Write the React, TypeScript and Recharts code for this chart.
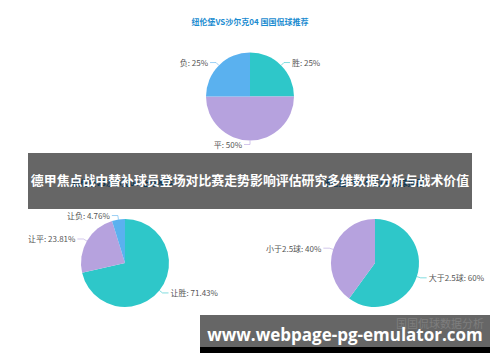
import React from 'react';
import { PieChart, Pie, Cell } from 'recharts';

const topTitle = '纽伦堡VS沙尔克04 国国侃球推荐';
const leftTitle = '纽伦堡VS沙尔克04 让球推荐';
const rightTitle = '纽伦堡VS沙尔克04 进球推荐';
const bannerText = '德甲焦点战中替补球员登场对比赛走势影响评估研究多维数据分析与战术价值';
const watermarkText = 'www.webpage-pg-emulator.com';
const watermarkSub = '国国侃球数据分析';

const resultNames = ['胜', '平', '负'];
const resultValues = [25, 50, 25];
const handicapNames = ['让胜', '让平', '让负'];
const handicapValues = [71.43, 23.81, 4.76];
const goalsNames = ['大于2.5球', '小于2.5球'];
const goalsValues = [60, 40];

const COLORS = ['#2ec7c9', '#b6a2de', '#5ab1ef'];

const toData = (names: string[], values: number[]) =>
  names.map((name, i) => ({ name, value: values[i] }));

const resultData = toData(resultNames, resultValues);
const handicapData = toData(handicapNames, handicapValues);
const goalsData = toData(goalsNames, goalsValues);

const FONT = '"Noto Sans CJK SC", "Noto Sans", sans-serif';

const renderLabel = (props: any) => {
  const { cx, cy, midAngle, outerRadius, name, value, index } = props;
  const RAD = Math.PI / 180;
  const c = Math.cos(-midAngle * RAD);
  const s = Math.sin(-midAngle * RAD);
  const sx = cx + outerRadius * c;
  const sy = cy + outerRadius * s;
  const mx = cx + (outerRadius + 4) * c;
  const my = cy + (outerRadius + 4) * s;
  const right = c > 0.001;
  const ex = mx + (right ? 6 : -6);
  const color = COLORS[index % COLORS.length];
  return (
    <g>
      <polyline
        points={`${sx},${sy} ${mx},${my} ${ex},${my}`}
        stroke={color}
        strokeOpacity={0.6}
        fill="none"
        strokeWidth={1}
      />
      <text
        x={ex + (right ? 2 : -2)}
        y={my}
        textAnchor={right ? 'start' : 'end'}
        dominantBaseline="central"
        fill="#555"
        fontSize={8}
        fontFamily={FONT}
      >
        {`${name}: ${value}%`}
      </text>
    </g>
  );
};

const titleStyle = (cx: number, cy: number): React.CSSProperties => ({
  position: 'absolute',
  left: cx - 100,
  top: cy - 6,
  width: 200,
  height: 12,
  lineHeight: '12px',
  textAlign: 'center',
  fontSize: 8,
  fontWeight: 700,
  color: '#1a8bd0',
  fontFamily: FONT,
  whiteSpace: 'nowrap',
});

export default function App() {
  return (
    <div
      style={{
        position: 'absolute',
        left: 0,
        top: 0,
        width: 500,
        height: 362,
        background: '#fff',
        overflow: 'hidden',
        fontFamily: FONT,
      }}
    >
      <div style={{ position: 'absolute', left: 0, top: 0 }}>
        <PieChart width={500} height={362} margin={{ top: 0, right: 0, bottom: 0, left: 0 }}>
          <Pie
            data={resultData}
            dataKey="value"
            nameKey="name"
            cx={250}
            cy={96.5}
            outerRadius={44}
            startAngle={90}
            endAngle={-270}
            stroke="none"
            label={renderLabel}
            labelLine={false}
            isAnimationActive={false}
          >
            {resultData.map((d, i) => (
              <Cell key={d.name} fill={COLORS[i % COLORS.length]} />
            ))}
          </Pie>
          <Pie
            data={handicapData}
            dataKey="value"
            nameKey="name"
            cx={125}
            cy={263}
            outerRadius={44}
            startAngle={90}
            endAngle={-270}
            stroke="none"
            label={renderLabel}
            labelLine={false}
            isAnimationActive={false}
          >
            {handicapData.map((d, i) => (
              <Cell key={d.name} fill={COLORS[i % COLORS.length]} />
            ))}
          </Pie>
          <Pie
            data={goalsData}
            dataKey="value"
            nameKey="name"
            cx={375}
            cy={263}
            outerRadius={44}
            startAngle={90}
            endAngle={-270}
            stroke="none"
            label={renderLabel}
            labelLine={false}
            isAnimationActive={false}
          >
            {goalsData.map((d, i) => (
              <Cell key={d.name} fill={COLORS[i % COLORS.length]} />
            ))}
          </Pie>
        </PieChart>
      </div>

      <div style={titleStyle(250, 22)}>{topTitle}</div>
      <div style={titleStyle(122.5, 183)}>{leftTitle}</div>
      <div style={titleStyle(373, 183)}>{rightTitle}</div>

      <div
        style={{
          position: 'absolute',
          left: 28,
          top: 153,
          width: 444,
          height: 56,
          background: 'rgba(0,0,0,0.6)',
        }}
      />
      <div
        style={{
          position: 'absolute',
          left: 0,
          top: 170,
          width: 500,
          height: 20,
          lineHeight: '20px',
          textAlign: 'center',
          color: '#fff',
          fontWeight: 700,
          fontSize: 12.9,
          whiteSpace: 'nowrap',
          fontFamily: FONT,
        }}
      >
        {bannerText}
      </div>

      <div
        style={{
          position: 'absolute',
          left: 200,
          top: 315,
          width: 290,
          height: 32,
          background: '#666',
        }}
      />
      <div
        style={{
          position: 'absolute',
          left: 200,
          top: 347,
          width: 290,
          height: 6,
          background: '#000',
        }}
      />
      <div
        style={{
          position: 'absolute',
          left: 358,
          top: 316,
          width: 126,
          height: 14,
          lineHeight: '14px',
          textAlign: 'right',
          color: '#7e7e7e',
          fontSize: 11,
          whiteSpace: 'nowrap',
          fontFamily: FONT,
        }}
      >
        {watermarkSub}
      </div>
      <div
        style={{
          position: 'absolute',
          left: 200,
          top: 324,
          width: 290,
          height: 22,
          lineHeight: '22px',
          textAlign: 'center',
          color: '#fff',
          fontWeight: 700,
          fontSize: 17,
          whiteSpace: 'nowrap',
          fontFamily: '"Open Sans", sans-serif',
        }}
      >
        {watermarkText}
      </div>
    </div>
  );
}
